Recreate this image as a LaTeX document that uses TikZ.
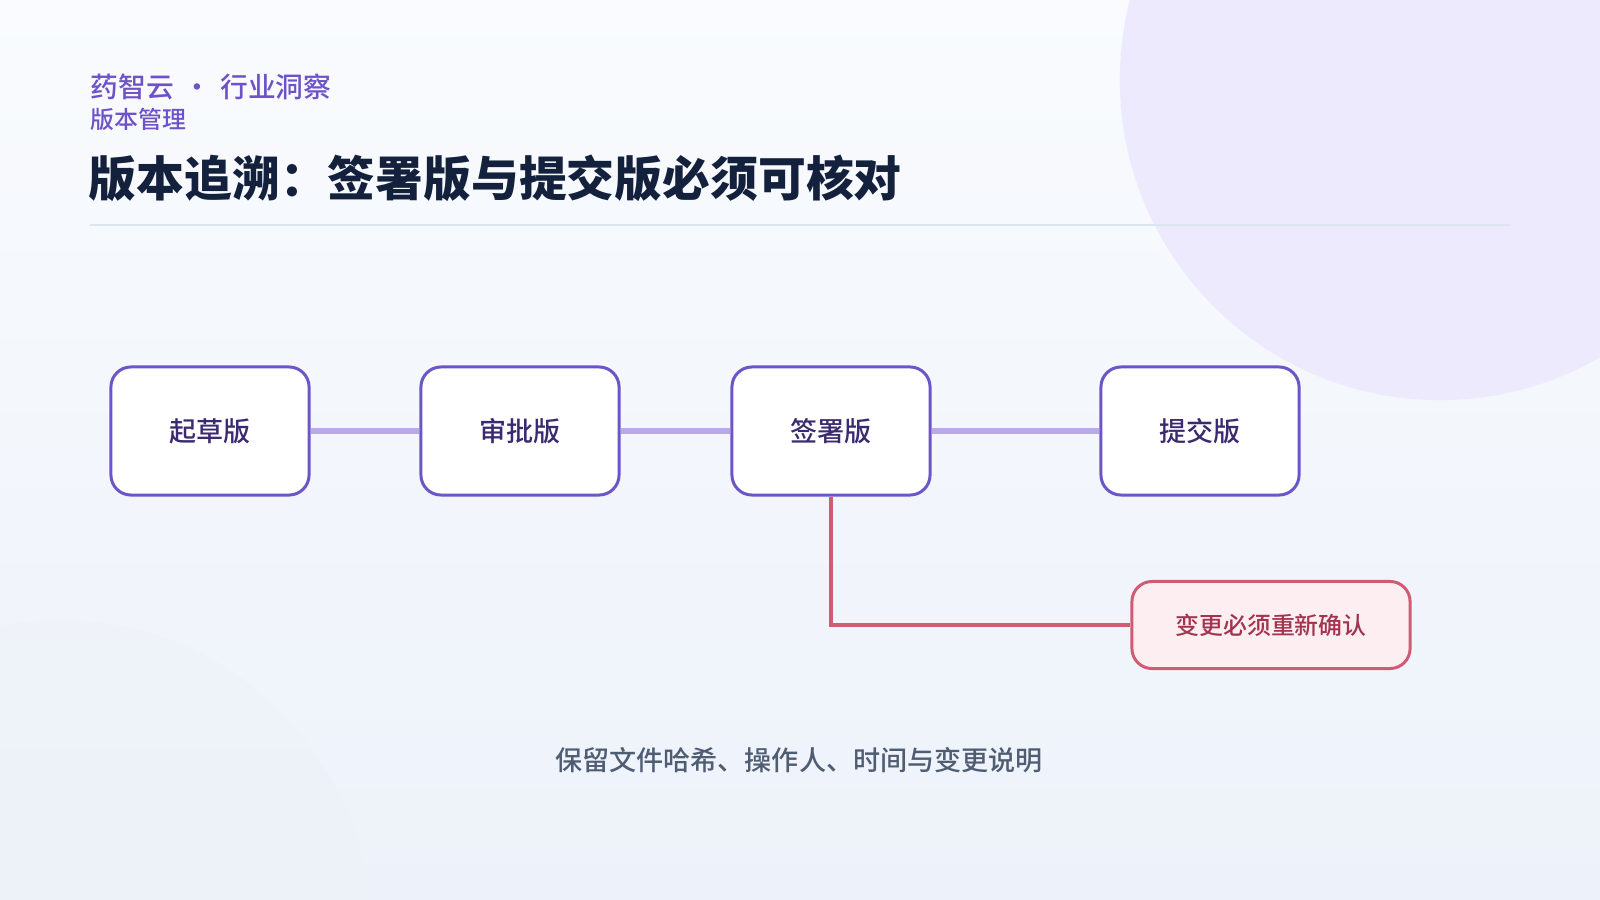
\documentclass[tikz,border=0pt]{standalone}
\usepackage{fontspec}
\setmainfont{Noto Sans CJK SC}
\newfontfamily\cjkmid{Noto Sans CJK SC Medium}
\usetikzlibrary{positioning}
\definecolor{bgtop}{HTML}{F9FBFE}
\definecolor{bgbot}{HTML}{EDF2FA}
\definecolor{blob}{HTML}{EEEAFD}
\definecolor{haze}{HTML}{ECF2F6}
\definecolor{brand}{HTML}{6E52C8}
\definecolor{ink}{HTML}{14213D}
\definecolor{rule}{HTML}{DDE5EF}
\definecolor{edge}{HTML}{6C55C6}
\definecolor{boxink}{HTML}{3B2A70}
\definecolor{link}{HTML}{B9A9E6}
\definecolor{alert}{HTML}{D15B72}
\definecolor{alertbg}{HTML}{FDEEF2}
\definecolor{alertink}{HTML}{A3344F}
\definecolor{slate}{HTML}{4F5D73}

\begin{document}
\begin{tikzpicture}[
  x=0.01cm, y=-0.01cm,
  ver/.style={draw=edge, line width=0.85pt, fill=white, rounded corners=0.2cm,
              minimum width=1.98cm, minimum height=1.28cm, inner sep=0pt,
              text=boxink, font=\fontsize{7.7pt}{9pt}\selectfont\cjkmid},
  warn/.style={draw=alert, line width=0.85pt, fill=alertbg, rounded corners=0.2cm,
               minimum width=2.78cm, minimum height=0.87cm, inner sep=0pt,
               text=alertink, font=\fontsize{6.8pt}{8pt}\selectfont\cjkmid},
  chain/.style={draw=link, line width=1.7pt},
  recheck/.style={draw=alert, line width=1.1pt},
  head/.style={anchor=west, inner sep=0pt, text=brand},
]

% ---- page and backdrop ------------------------------------------------------
\useasboundingbox (0,0) rectangle (1600,900);
\shade[top color=bgtop, bottom color=bgbot] (0,0) rectangle (1600,900);
\begin{scope}
  \clip (0,0) rectangle (1600,900);
  \fill[blob] (1440,80) circle[radius=3.2cm];
  \fill[haze, opacity=0.35] (60,930) circle[radius=3.1cm];
\end{scope}

% ---- heading ----------------------------------------------------------------
\node[head, font=\fontsize{7.9pt}{9pt}\selectfont\cjkmid] (brandline) at (90,87)
  {药智云\,\,·\,\,行业洞察};
\node[head, font=\fontsize{6.8pt}{8pt}\selectfont\cjkmid] (topic) at (90,119) {版本管理};
\node[anchor=west, inner sep=0pt, text=ink, font=\fontsize{13.6pt}{16pt}\selectfont\bfseries]
  (title) at (88,178) {版本追溯：签署版与提交版必须可核对};
\draw[rule, line width=0.6pt] (90,225) -- (1511,225);

% ---- the version chain ------------------------------------------------------
\node[ver] (draft)  at (210,431)  {起草版};
\node[ver] (review) at (520,431)  {审批版};
\node[ver] (signed) at (831,431)  {签署版};
\node[ver] (submit) at (1200,431) {提交版};

\draw[chain] (draft) -- (review);
\draw[chain] (review) -- (signed);
\draw[chain] (signed) -- (submit);

% any change after signing goes back for confirmation
\node[warn] (confirm) at (1271,625) {变更必须重新确认};
\draw[recheck] (signed.south) |- (confirm.west);

% ---- footnote ---------------------------------------------------------------
\node[text=slate, font=\fontsize{7.7pt}{9pt}\selectfont\cjkmid] (trail) at (799,760)
  {保留文件哈希、操作人、时间与变更说明};

\end{tikzpicture}
\end{document}
